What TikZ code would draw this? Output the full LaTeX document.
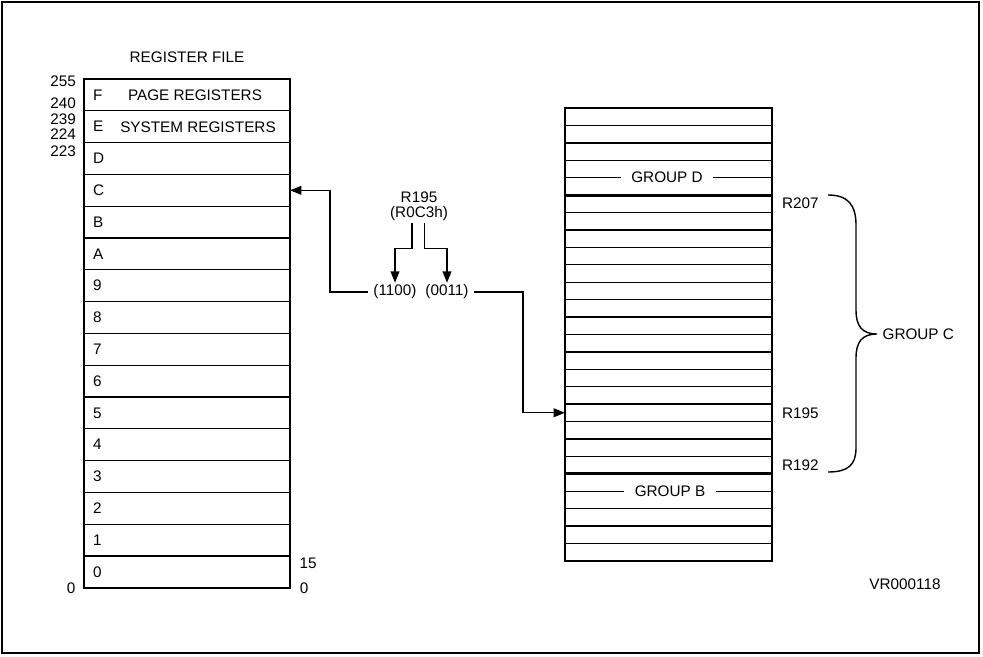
\documentclass[tikz,border=0pt]{standalone}
\usepackage{fontspec}
\setmainfont{Liberation Sans}
\usetikzlibrary{arrows.meta}

\begin{document}
\begin{tikzpicture}[x=0.02cm, y=-0.02cm,
  every node/.style={font=\fontsize{8.7}{10}\selectfont, inner sep=1pt},
  heavy/.style={line width=1.6pt},
  divider/.style={line width=0.75pt},
  wire/.style={line width=0.8pt},
  arr/.style={wire, -{Triangle[length=6.5pt,width=5pt]}},
  gap/.style={fill=white, inner xsep=6pt},
  field/.style={inner xsep=3pt}]

\useasboundingbox (0,0) rectangle (983,656);
\draw[line width=0.8pt] (2,2) rectangle (979,653);

%% register file
\node (rftitle) at (187,57) {REGISTER FILE};
\foreach \k in {1,...,15}
  \draw[divider] (84,{79+31.8*\k}) -- (290,{79+31.8*\k});
\draw[heavy] (84,79) coordinate (rfNW) rectangle (290,588) coordinate (rfSE);

\foreach \lbl [count=\i from 0] in {F,E,D,C,B,A,9,8,7,6,5,4,3,2,1,0}
  \node[anchor=west] (row-\lbl) at (91,{79+31.8*(\i+0.5)}) {\lbl};

\node (page) at (195,95) {PAGE REGISTERS};
\node (sys) at (198,127) {SYSTEM REGISTERS};

\node[anchor=east] (n255) at (78,81) {255};
\node[anchor=east] (n240) at (78,103) {240};
\node[anchor=east] (n239) at (78,119) {239};
\node[anchor=east] (n224) at (78,134) {224};
\node[anchor=east] (n223) at (78,151) {223};
\node (nlow) at (71,588) {0};
\node (nbit15) at (308,563) {15};
\node (nbit0) at (304,588) {0};

%% register groups
\def\rh{17.42}
\foreach \k in {1,...,25}
  \draw[divider] (565,{108+\rh*\k}) -- (772,{108+\rh*\k});
\draw[heavy] (565,{108+5*\rh}) -- (772,{108+5*\rh});
\draw[heavy] (565,{108+21*\rh}) -- (772,{108+21*\rh});
\draw[heavy] (565,108) coordinate (rgNW) rectangle (772,561) coordinate (rgSE);

\node[gap] (grpD) at (667,{108+4*\rh}) {GROUP D};
\node[gap] (grpB) at (670,{108+22*\rh}) {GROUP B};

\node[anchor=west] (r207) at (780,{195+0.5*\rh}) {R207};
\node[anchor=west] (r195) at (780,{195+12.5*\rh}) {R195};
\node[anchor=west] (r192) at (780,{195+15.5*\rh}) {R192};

\draw[wire] (828,195) .. controls (848,195) and (856,205) .. (856,225) -- (856,310)
  .. controls (856,326) and (862,334) .. (877,334) coordinate (tip)
  .. controls (862,334) and (856,342) .. (856,358) -- (856,448)
  .. controls (856,465) and (848,472) .. (828,472);
\node[anchor=west] (grpC) at ([xshift=2pt]tip) {GROUP C};

%% address split
\node (addr) at (419,197) {R195};
\node (hex) at (419,214) {(R0C3h)};
\node[field] (hi) at (395,292) {(1100)};
\node[field] (lo) at (447,292) {(0011)};

\draw[arr] ([xshift=-4pt]hex.south) -- ++(0,25) -| (hi.north);
\draw[arr] ([xshift=3pt]hex.south) -- ++(0,25) -| (lo.north);
\draw[arr] (hi.west) -- ++(-38,0) |- (row-C -| rfSE);
\draw[arr] (lo.east) -- ++(49,0) |- (r195 -| rgNW);

\node (vr) at (905,584) {VR000118};
\end{tikzpicture}
\end{document}
